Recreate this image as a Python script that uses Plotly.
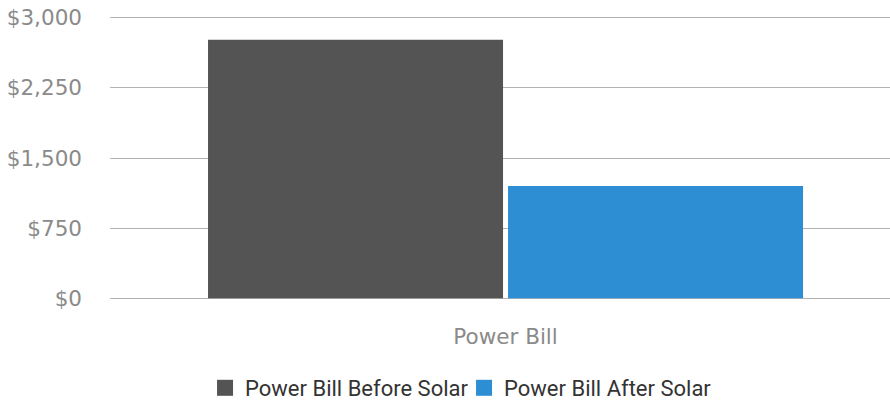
import plotly.graph_objects as go

categories = ["Power Bill"]
series_names = ["Power Bill Before Solar", "Power Bill After Solar"]
before_values = [2764]
after_values = [1200]
colors = ["#545454", "#2E8ED3"]
y_tickvals = [0, 750, 1500, 2250, 3000]
y_ticktext = ["$0", "$750", "$1,500", "$2,250", "$3,000"]

fig = go.Figure()
for name, vals, col in zip(series_names, [before_values, after_values], colors):
    fig.add_trace(go.Bar(x=categories, y=vals, name=name, marker=dict(color=col, line=dict(width=0)),
                         showlegend=False))
    fig.add_trace(go.Scatter(x=[None], y=[None], mode="markers", name=name,
                             marker=dict(symbol="square", size=16, color=col)))

fig.update_layout(
    width=890, height=401,
    margin=dict(l=110, r=0, t=15.2, b=100.2, autoexpand=False),
    plot_bgcolor="white", paper_bgcolor="white",
    barmode="group", bargap=0.2415, bargroupgap=0.0167,
    xaxis=dict(range=[-0.5, 0.486], showgrid=False, zeroline=False, showline=False,
               automargin=False,
               tickfont=dict(family="DejaVu Sans", size=21.5, color="#8a8a8a"),
               ticklabelstandoff=20),
    yaxis=dict(range=[-30, 3030], tickvals=y_tickvals, ticktext=y_ticktext,
               showgrid=True, gridcolor="#b3b3b3", gridwidth=1, zeroline=False, showline=False,
               automargin=False,
               tickfont=dict(family="DejaVu Sans", size=21.5, color="#8a8a8a"),
               ticklabelstandoff=27),
    legend=dict(orientation="h", x=0.4539, xanchor="center", yref="container", y=13 / 401,
                yanchor="middle",
                font=dict(family="Roboto", size=22, color="#333333"), itemwidth=30,
                entrywidth=214, entrywidthmode="pixels",
                tracegroupgap=0),
)

fig.write_html("out.html", config={"displayModeBar": False},
               post_script="document.body.style.margin='0';document.body.style.overflow='hidden';")
